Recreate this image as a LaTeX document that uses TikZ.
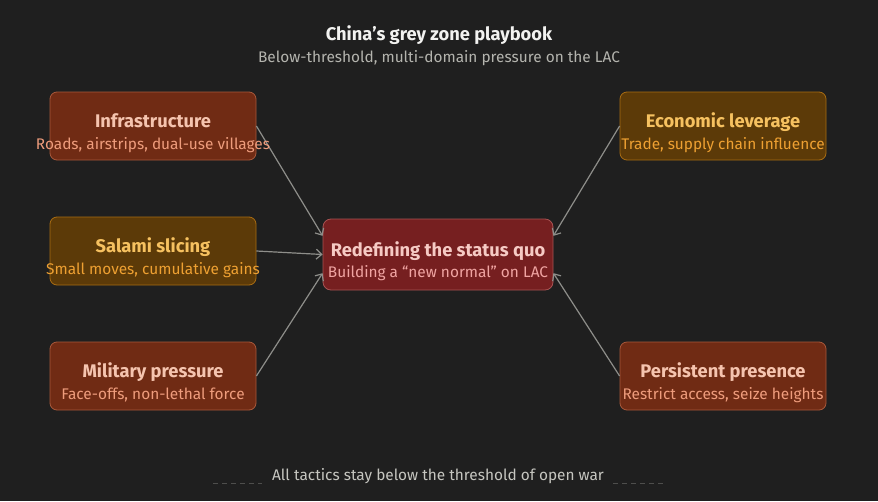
\documentclass[tikz,border=0pt]{standalone}
\usepackage{fontspec}
\setmainfont{Fira Sans}
\usetikzlibrary{calc,arrows.meta}
\definecolor{bg}{HTML}{1F1F1F}
\definecolor{rustfill}{HTML}{702B14}
\definecolor{rustdraw}{HTML}{A8583A}
\definecolor{rusttitle}{HTML}{F5C4AF}
\definecolor{rustsub}{HTML}{EE9C7C}
\definecolor{ambfill}{HTML}{5C3A08}
\definecolor{ambdraw}{HTML}{A86C12}
\definecolor{ambtitle}{HTML}{F6C160}
\definecolor{ambsub}{HTML}{EEA032}
\definecolor{redfill}{HTML}{761F20}
\definecolor{reddraw}{HTML}{A85252}
\definecolor{redtitle}{HTML}{F6CAC4}
\definecolor{redsub}{HTML}{F0A4A2}
\definecolor{arrowc}{HTML}{8E8E8A}
\definecolor{headc}{HTML}{F2F2F0}
\definecolor{subc}{HTML}{B4B4AE}
\definecolor{footc}{HTML}{C6C6C0}
\definecolor{dashc}{HTML}{4E4E4C}
\tikzset{
  box/.style={rounded corners=7pt, line width=0.8pt, minimum width=206pt, minimum height=68pt, inner sep=0pt},
  rustbox/.style={box, fill=rustfill, draw=rustdraw},
  ambbox/.style={box, fill=ambfill, draw=ambdraw},
  centbox/.style={rounded corners=8pt, line width=0.8pt, minimum width=230pt, minimum height=71pt, inner sep=0pt, fill=redfill, draw=reddraw},
  ttl/.style={font=\fontsize{18.3}{21}\selectfont\bfseries, inner sep=0pt, anchor=base},
  sub/.style={font=\fontsize{15.4}{18}\selectfont, inner sep=0pt, anchor=base},
  conn/.style={draw=arrowc, line width=1.2pt, -{Straight Barb[length=5.5pt,width=10pt]}}
}
\begin{document}
\begin{tikzpicture}[x=1pt,y=-1pt]
\fill[bg] (0,0) rectangle (878,501);
\useasboundingbox (0,0) rectangle (878,501);
% header
\node[ttl, text=headc] (h1) at (439,40) {China’s grey zone playbook};
\node[sub, text=subc] (h2) at (439,62) {Below-threshold, multi-domain pressure on the LAC};
% boxes
\node[rustbox] (infra) at (153,126) {};
\node[ambbox] (salami) at (153,251) {};
\node[rustbox] (mil) at (153,376) {};
\node[ambbox] (econ) at (723,126) {};
\node[rustbox] (pers) at (723,376) {};
\node[centbox] (cen) at (438,254.5) {};
% connectors
\draw[conn] (infra.east) -- ($(cen.north west)!0.24!(cen.south west)$);
\draw[conn] (salami.east) -- (cen.west);
\draw[conn] (mil.east) -- ($(cen.north west)!0.76!(cen.south west)$);
\draw[conn] (econ.west) -- ($(cen.north east)!0.24!(cen.south east)$);
\draw[conn] (pers.west) -- ($(cen.north east)!0.76!(cen.south east)$);
% texts
\node[ttl, text=rusttitle] (infraT) at (153,127) {Infrastructure};
\node[sub, text=rustsub] (infraS) at (153,149) {Roads, airstrips, dual-use villages};
\node[ttl, text=ambtitle] (salT) at (153,252) {Salami slicing};
\node[sub, text=ambsub] (salS) at (153,274) {Small moves, cumulative gains};
\node[ttl, text=rusttitle] (milT) at (153,377) {Military pressure};
\node[sub, text=rustsub] (milS) at (153,399) {Face-offs, non-lethal force};
\node[ttl, text=ambtitle] (econT) at (723,127) {Economic leverage};
\node[sub, text=ambsub] (econS) at (723,149) {Trade, supply chain influence};
\node[ttl, text=rusttitle] (persT) at (723,377) {Persistent presence};
\node[sub, text=rustsub] (persS) at (723,399) {Restrict access, seize heights};
\node[ttl, text=redtitle] (cenT) at (438,256) {Redefining the status quo};
\node[sub, text=redsub] (cenS) at (438,277) {Building a “new normal” on LAC};
% footer
\node[sub, text=footc] (foot) at (438,480) {All tactics stay below the threshold of open war};
\coordinate (dl1) at (213,483);
\coordinate (dl2) at (262,483);
\coordinate (dr1) at (613,483);
\coordinate (dr2) at (663,483);
\draw[dashc, line width=0.8pt, dash pattern=on 5pt off 4pt] (dl1) -- (dl2);
\draw[dashc, line width=0.8pt, dash pattern=on 5pt off 4pt] (dr1) -- (dr2);
\end{tikzpicture}
\end{document}
